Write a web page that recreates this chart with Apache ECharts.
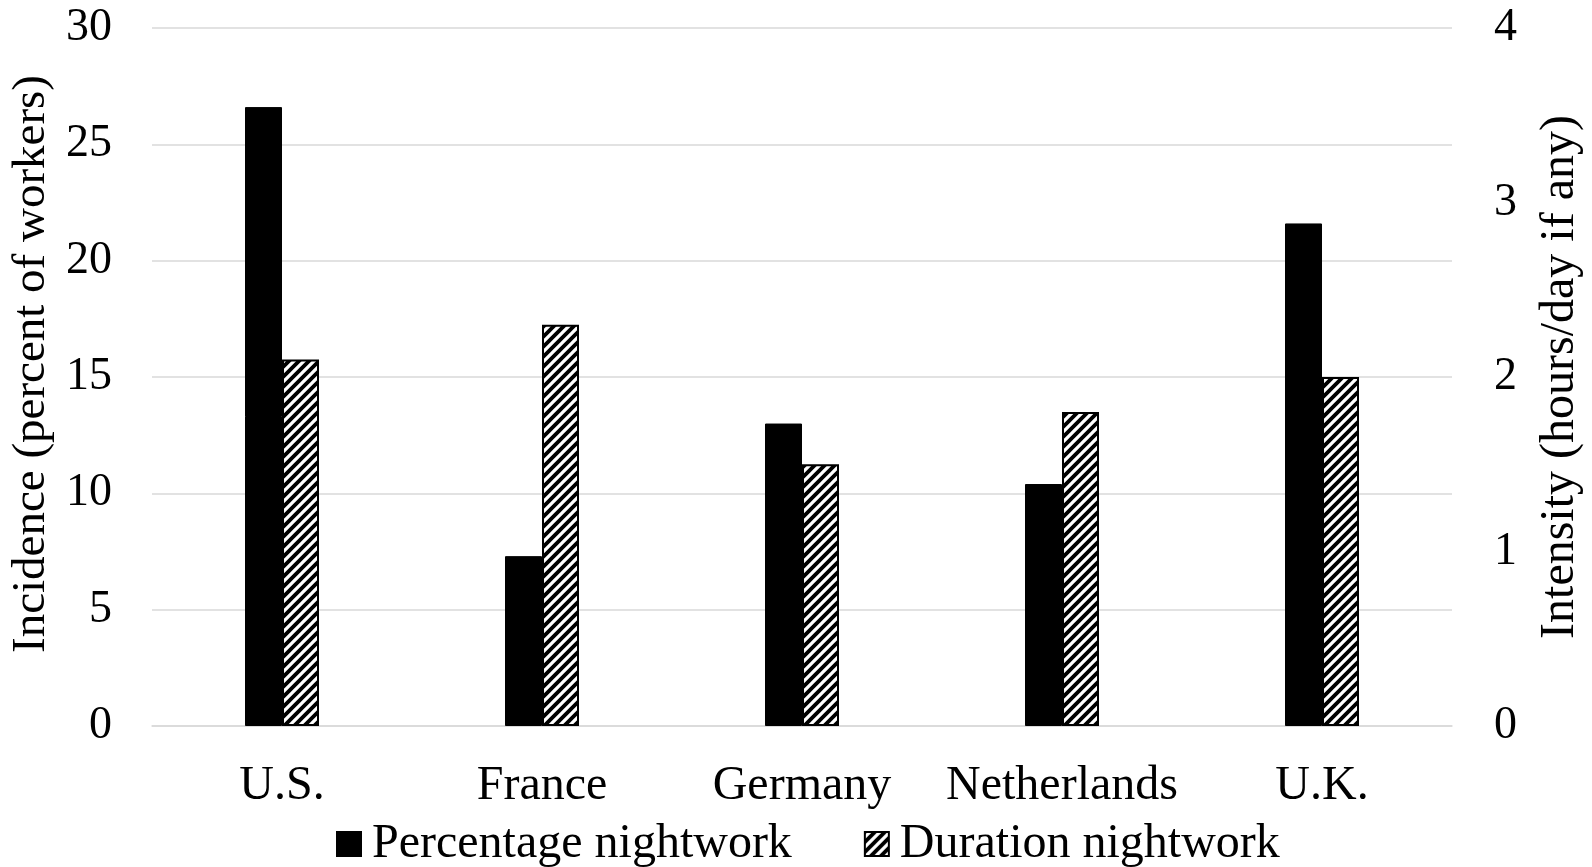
<!DOCTYPE html>
<html>
<head>
<meta charset="utf-8">
<script src="https://cdn.jsdelivr.net/npm/echarts@6/dist/echarts.min.js"></script>
<style>
html,body{margin:0;padding:0;background:#fff;}
#chart{width:1592px;height:867px;}
</style>
</head>
<body>
<div id="chart"></div>
<script>
const categories = ['U.S.', 'France', 'Germany', 'Netherlands', 'U.K.'];
const percentageNightwork = [26.6, 7.3, 13.0, 10.4, 21.6];
const durationNightwork = [2.1, 2.3, 1.5, 1.8, 2.0];
const leftTicks = [0, 5, 10, 15, 20, 25, 30];
const rightTicks = [0, 1, 2, 3, 4];
const seriesNames = ['Percentage nightwork', 'Duration nightwork'];

function hatch() {
  const p = 10;
  const c = document.createElement('canvas');
  c.width = p; c.height = p;
  const ctx = c.getContext('2d');
  ctx.fillStyle = '#fff';
  ctx.fillRect(0, 0, p, p);
  ctx.strokeStyle = '#000';
  ctx.lineWidth = 3.8;
  ctx.beginPath();
  ctx.moveTo(-1, p + 1); ctx.lineTo(p + 1, -1);
  ctx.moveTo(-2, 2); ctx.lineTo(2, -2);
  ctx.moveTo(p - 2, p + 2); ctx.lineTo(p + 2, p - 2);
  ctx.stroke();
  return c;
}

const font = '"Liberation Serif", "Times New Roman", serif';
const fs = 46;
const fsBig = 48;
const chart = echarts.init(document.getElementById('chart'));
chart.setOption({
  animation: false,
  textStyle: { fontFamily: font, color: '#000' },
  grid: { left: 152, right: 138, top: 28, bottom: 141 },
  legend: {
    top: 818,
    left: 336,
    padding: 0,
    itemWidth: 24,
    itemHeight: 24,
    itemGap: 72,
    icon: 'rect',
    textStyle: { fontFamily: font, fontSize: fsBig, color: '#000', lineHeight: 52, padding: [0, 0, 0, 6] },
    data: seriesNames
  },
  xAxis: {
    type: 'category',
    data: categories,
    axisLine: { show: true, lineStyle: { color: '#d9d9d9', width: 1.5 } },
    axisTick: { show: false },
    axisLabel: { fontFamily: font, fontSize: fsBig, color: '#000', margin: 36, interval: 0 }
  },
  yAxis: [
    {
      type: 'value', min: leftTicks[0], max: leftTicks[leftTicks.length - 1], interval: 5,
      name: 'Incidence (percent of workers)',
      nameLocation: 'middle', nameGap: 93,
      nameTextStyle: { fontFamily: font, fontSize: 47, color: '#000', padding: [0, 0, 0, 26] },
      axisLine: { show: false }, axisTick: { show: false },
      axisLabel: { fontFamily: font, fontSize: fs, color: '#000', margin: 40 },
      splitLine: { lineStyle: { color: '#d9d9d9', width: 1.5 } }
    },
    {
      type: 'value', min: rightTicks[0], max: rightTicks[rightTicks.length - 1], interval: 1,
      name: 'Intensity (hours/day if any)',
      nameLocation: 'middle', nameGap: 84, nameRotate: 90,
      nameTextStyle: { fontFamily: font, fontSize: fsBig, color: '#000', verticalAlign: 'top' },
      axisLine: { show: false }, axisTick: { show: false },
      axisLabel: { fontFamily: font, fontSize: fs, color: '#000', margin: 42 },
      splitLine: { show: false }
    }
  ],
  series: [
    {
      name: seriesNames[0], type: 'bar', yAxisIndex: 0,
      data: percentageNightwork,
      barWidth: 37, barGap: '0%',
      itemStyle: { color: '#000', borderColor: '#000', borderWidth: 1 }
    },
    {
      name: seriesNames[1], type: 'bar', yAxisIndex: 1,
      data: durationNightwork,
      barWidth: 37, barGap: '0%',
      itemStyle: { color: { image: hatch(), repeat: 'repeat' }, borderColor: '#000', borderWidth: 2 }
    }
  ]
});
</script>
</body>
</html>
